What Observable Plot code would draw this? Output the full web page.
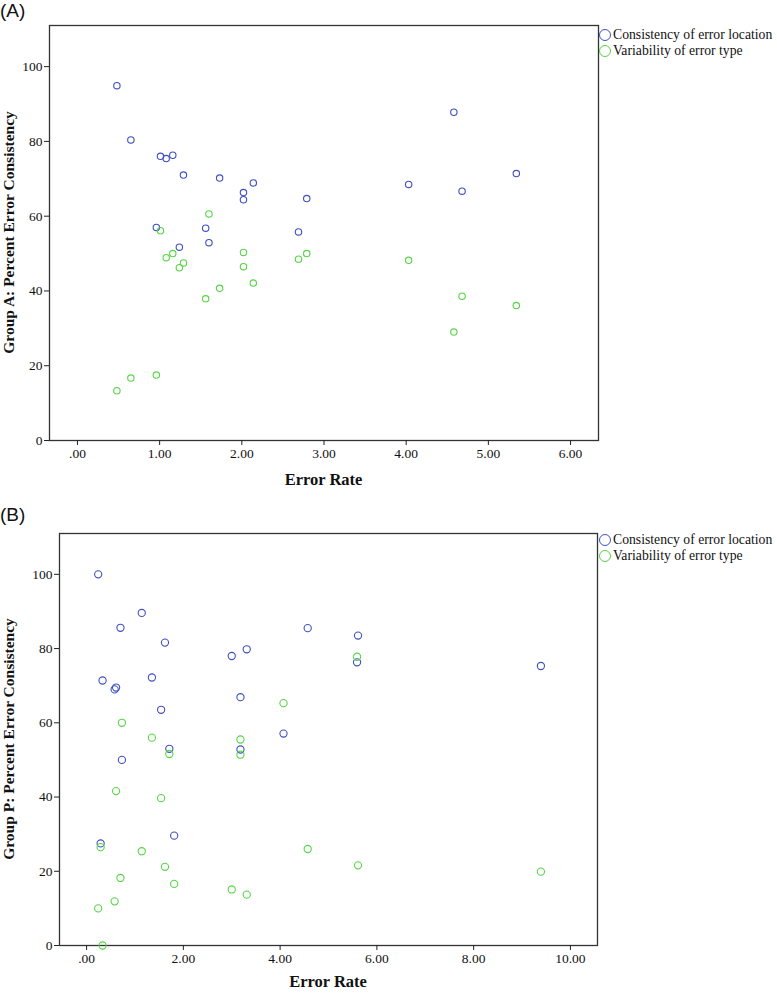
<!DOCTYPE html>
<html>
<head>
<meta charset="utf-8">
<script src="https://cdn.jsdelivr.net/npm/d3@7"></script>
<script src="https://cdn.jsdelivr.net/npm/@observablehq/plot@0.6"></script>
<style>
  html, body { margin: 0; padding: 0; background: #fff; }
  #page { position: relative; width: 777px; height: 993px; overflow: hidden; }
  .panel { position: absolute; left: 0; }
  .tag { position: absolute; left: 0; font-family: "Liberation Sans", Arial, sans-serif; font-size: 19px; line-height: 22px; color: #111; }
  .legend { position: absolute; left: 599px; font-family: "Liberation Serif", "Times New Roman", serif; font-size: 13.7px; color: #111; line-height: 16px; }
  .legend div { display: flex; align-items: center; white-space: nowrap; }
  .legend span.sw { display: inline-block; width: 12px; height: 12px; border-radius: 50%; border: 1px solid; margin-right: 2px; box-sizing: border-box; }
</style>
</head>
<body>
<div id="page"></div>
<script>
// ---------- Data ----------
const seriesNames = ["Consistency of error location", "Variability of error type"];
const seriesColors = ["#3f4fc4", "#55d644"];
const yTicks = [0, 20, 40, 60, 80, 100];

// Group A
const aErrorRate = [0.48, 0.65, 0.96, 1.01, 1.08, 1.16, 1.24, 1.29, 1.56, 1.60, 1.73, 2.02, 2.02, 2.14, 2.69, 2.79, 4.03, 4.58, 4.68, 5.34];
const aLocation  = [94.9, 80.4, 57.0, 76.0, 75.4, 76.3, 51.7, 71.0, 56.8, 52.9, 70.2, 66.3, 64.4, 68.9, 55.8, 64.7, 68.5, 87.8, 66.7, 71.4];
const aType      = [13.3, 16.7, 17.5, 56.1, 48.9, 50.0, 46.2, 47.5, 37.9, 60.6, 40.7, 50.3, 46.5, 42.1, 48.5, 50.0, 48.2, 29.0, 38.6, 36.1];
const aXTicks = [0, 1, 2, 3, 4, 5, 6];

// Group P
const pErrorRate = [0.24, 0.29, 0.33, 0.58, 0.61, 0.70, 0.73, 1.14, 1.35, 1.54, 1.62, 1.71, 1.81, 3.00, 3.18, 3.18, 3.31, 4.07, 4.57, 5.59, 5.61, 9.39];
const pLocation  = [100.0, 27.5, 71.4, 69.0, 69.5, 85.6, 50.0, 89.6, 72.2, 63.5, 81.6, 53.0, 29.6, 78.0, 66.9, 52.8, 79.8, 57.1, 85.5, 76.3, 83.5, 75.3];
const pType      = [10.0, 26.5, 0.0, 11.9, 41.6, 18.2, 60.0, 25.4, 56.0, 39.7, 21.2, 51.6, 16.6, 15.1, 55.5, 51.4, 13.7, 65.3, 26.0, 77.8, 21.6, 19.9];
const pXTicks = [0, 2, 4, 6, 8, 10];

// ---------- Helpers ----------
const fmtX = d => d === 0 ? ".00" : d.toFixed(2);

function longForm(xs, loc, typ) {
  const rows = [];
  xs.forEach((x, i) => {
    rows.push({x, y: loc[i], s: seriesNames[0]});
    rows.push({x, y: typ[i], s: seriesNames[1]});
  });
  return rows;
}

function panel({top, height, mt, mb, ml, mr, xDomain, xTicks, yLabel, xs, loc, typ, r, xLabelOffset}) {
  const data = longForm(xs, loc, typ);
  const chart = Plot.plot({
    width: 777,
    height,
    marginTop: mt,
    marginBottom: mb,
    marginLeft: ml,
    marginRight: mr,
    style: {fontFamily: '"Liberation Serif", "Times New Roman", serif', fontSize: "13.5px", color: "#111", background: "transparent"},
    x: {domain: xDomain, ticks: xTicks, tickFormat: fmtX, tickSize: 5, tickPadding: 3, label: null},
    y: {domain: [0, 111], ticks: yTicks, tickSize: 5, tickPadding: 2, label: null},
    color: {domain: seriesNames, range: seriesColors},
    marks: [
      Plot.frame({stroke: "#333", strokeWidth: 1.3}),
      Plot.axisX({ticks: xTicks, tickFormat: fmtX, tickSize: 5, tickPadding: 3, stroke: "#222", fontSize: 13.5}),
      Plot.axisY({ticks: yTicks, tickSize: 5, tickPadding: 2, stroke: "#222", fontSize: 13.5}),
      Plot.dot(data, {x: "x", y: "y", stroke: "s", r, strokeWidth: 1.1, fill: "none"})
    ]
  });
  const wrap = document.createElement("div");
  wrap.className = "panel";
  wrap.style.top = top + "px";
  wrap.appendChild(chart);

  const svg = d3.select(chart);
  const plotLeft = ml, plotRight = 777 - mr, plotTop = mt, plotBottom = height - mb;
  svg.append("text")
    .attr("x", (plotLeft + plotRight) / 2)
    .attr("y", plotBottom + xLabelOffset)
    .attr("text-anchor", "middle")
    .attr("font-family", '"Liberation Serif", "Times New Roman", serif')
    .attr("font-weight", "bold")
    .attr("font-size", 16.5)
    .attr("fill", "#111")
    .text("Error Rate");
  svg.append("text")
    .attr("transform", `translate(14,${(plotTop + plotBottom) / 2}) rotate(-90)`)
    .attr("text-anchor", "middle")
    .attr("font-family", '"Liberation Serif", "Times New Roman", serif')
    .attr("font-weight", "bold")
    .attr("font-size", 15.5)
    .attr("fill", "#111")
    .text(yLabel);
  return wrap;
}

function legend(top) {
  const lg = document.createElement("div");
  lg.className = "legend";
  lg.style.top = top + "px";
  seriesNames.forEach((n, i) => {
    const row = document.createElement("div");
    const sw = document.createElement("span");
    sw.className = "sw";
    sw.style.borderColor = seriesColors[i];
    row.appendChild(sw);
    row.appendChild(document.createTextNode(n));
    lg.appendChild(row);
  });
  return lg;
}

function tag(text, top) {
  const t = document.createElement("div");
  t.className = "tag";
  t.style.top = top + "px";
  t.textContent = text;
  return t;
}

const page = document.getElementById("page");

page.appendChild(panel({
  top: 0, height: 490, mt: 25, mb: 50, ml: 49, mr: 179,
  xDomain: [-0.34, 6.34], xTicks: aXTicks,
  yLabel: "Group A: Percent Error Consistency",
  xs: aErrorRate, loc: aLocation, typ: aType, r: 3.2, xLabelOffset: 45
}));
page.appendChild(tag("(A)", 0));
page.appendChild(legend(27));

page.appendChild(panel({
  top: 490, height: 503, mt: 43, mb: 48, ml: 59, mr: 180,
  xDomain: [-0.56, 10.56], xTicks: pXTicks,
  yLabel: "Group P: Percent Error Consistency",
  xs: pErrorRate, loc: pLocation, typ: pType, r: 3.6, xLabelOffset: 42
}));
page.appendChild(tag("(B)", 504));
page.appendChild(legend(532));
</script>
</body>
</html>
